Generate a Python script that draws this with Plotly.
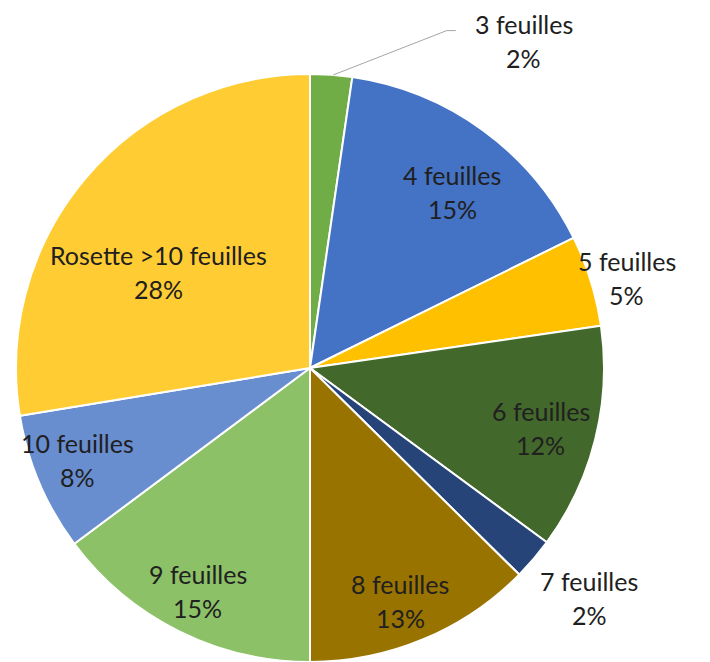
import math
import plotly.graph_objects as go

# ---- data ----
labels = ["3 feuilles", "4 feuilles", "5 feuilles", "6 feuilles", "7 feuilles",
          "8 feuilles", "9 feuilles", "10 feuilles", "Rosette >10 feuilles"]
values = [2.3, 15.4, 5.0, 12.4, 2.3, 12.6, 14.8, 7.6, 27.6]

# ---- style ----
colors = ["#70AD47", "#4472C4", "#FFC000", "#43682B", "#264478",
          "#997300", "#8CC168", "#698ED0", "#FFCD33"]
label_r = [1.33, 0.77, 1.12, 0.81, 1.23, 0.85, 0.85, 0.85, 0.61]
label_dang = [29, 3, 1.5, 0.5, -1, 1.5, 0, 1.5, -8]
FONT = "Lato"
FS = 25
TXT = "#202020"
LINE_GAP = 34  # px between the two lines of a label

OFF = 8  # page body margin
W, H = 702, 654
ML, MR, MT, MB = 7, 105, 66, 0
PW, PH = W - ML - MR, H - MT - MB
R = min(PW, PH) / 2
CX, CY = ML + PW / 2 + OFF, MT + PH / 2 + OFF  # page pixel coords


def to_paper(px, py):
    return (px - OFF - ML) / PW, (H - MB - (py - OFF)) / PH


def polar(angle_deg, r):
    a = math.radians(angle_deg)
    return CX + r * R * math.sin(a), CY - r * R * math.cos(a)


fig = go.Figure(go.Pie(
    labels=labels, values=values, sort=False, direction="clockwise", rotation=0,
    marker=dict(colors=colors, line=dict(color="white", width=2)),
    textinfo="none", hoverinfo="label+percent", showlegend=False,
))

total = sum(values)
cum = 0.0
annotations = []
shapes = []
for i, (lab, v) in enumerate(zip(labels, values)):
    mid = (cum + v / 2) / total * 360
    cum += v
    pct = int(v / total * 100 + 0.5)
    px, py = polar(mid + label_dang[i], label_r[i])
    for txt, dy in ((lab, -LINE_GAP / 2), (f"{pct}%", LINE_GAP / 2)):
        xp, yp = to_paper(px, py + dy)
        annotations.append(dict(
            x=xp, y=yp, xref="paper", yref="paper", xanchor="center", yanchor="middle",
            text=txt, showarrow=False, align="center",
            font=dict(family=FONT, size=FS, color=TXT),
        ))
    if i == 0:
        sx, sy = polar(mid + 0.4, 1.0)
        ex, ey = px - 77, py - 10
        hx, hy = px - 68, py - 10
        p0, p1, p2 = to_paper(sx, sy), to_paper(ex, ey), to_paper(hx, hy)
        shapes.append(dict(type="path", xref="paper", yref="paper",
                           path=f"M {p0[0]},{p0[1]} L {p1[0]},{p1[1]} L {p2[0]},{p2[1]}",
                           line=dict(color="#A6A6A6", width=1)))

bx0, by0 = to_paper(708.5, OFF)
bx1, by1 = to_paper(708.5, H + OFF)
shapes.append(dict(type="line", xref="paper", yref="paper", x0=bx0, y0=by0, x1=bx1, y1=by1,
                   line=dict(color="#8C8C8C", width=2)))

fig.update_layout(
    width=W, height=H, margin=dict(l=ML, r=MR, t=MT, b=MB),
    paper_bgcolor="white", plot_bgcolor="white",
    annotations=annotations, shapes=shapes,
    font=dict(family=FONT, size=FS, color=TXT),
)

fig.write_html("out.html",
               post_script="document.documentElement.style.overflow='hidden';"
                           "document.body.style.overflow='hidden';")
